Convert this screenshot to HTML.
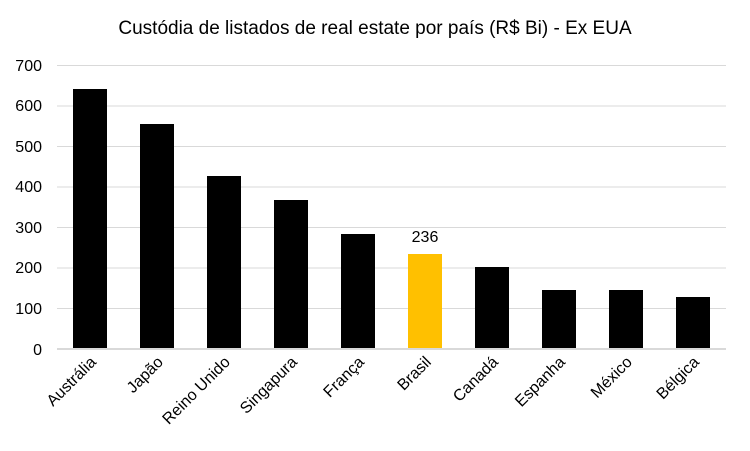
<!DOCTYPE html>
<html><head><meta charset="utf-8"><style>body{margin:0;background:#fff}svg{display:block;font-family:"Liberation Sans",Arial,sans-serif}</style></head><body>
<svg width="750" height="451" viewBox="0 0 750 451">
<rect width="750" height="451" fill="#fff"/>
<text x="375" y="34" font-size="19" text-anchor="middle" fill="#000">Custódia de listados de real estate por país (R$ Bi) - Ex EUA</text>
<g stroke="#d9d9d9" stroke-width="1">
<line x1="57" x2="726" y1="65.5" y2="65.5"/><line x1="57" x2="726" y1="106" y2="106"/><line x1="57" x2="726" y1="146.5" y2="146.5"/><line x1="57" x2="726" y1="187" y2="187"/><line x1="57" x2="726" y1="227.5" y2="227.5"/><line x1="57" x2="726" y1="268" y2="268"/><line x1="57" x2="726" y1="308.5" y2="308.5"/><line x1="57" x2="726" y1="349" y2="349" stroke-width="2"/>
</g>
<g font-size="16" text-anchor="end" fill="#000">
<text x="42" y="71">700</text><text x="42" y="111">600</text><text x="42" y="152">500</text><text x="42" y="192">400</text><text x="42" y="233">300</text><text x="42" y="273">200</text><text x="42" y="314">100</text><text x="42" y="355">0</text>
</g>
<g fill="#000">
<rect x="73" y="89" width="34" height="259"/>
<rect x="140" y="124" width="34" height="224"/>
<rect x="207" y="176" width="34" height="172"/>
<rect x="274" y="200" width="34" height="148"/>
<rect x="341" y="234" width="34" height="114"/>
<rect x="408" y="254" width="34" height="94" fill="#ffc000"/>
<rect x="475" y="267" width="34" height="81"/>
<rect x="542" y="290" width="34" height="58"/>
<rect x="609" y="290" width="34" height="58"/>
<rect x="676" y="297" width="34" height="51"/>
</g>
<text x="425" y="242" font-size="16" text-anchor="middle">236</text>
<g font-size="16" text-anchor="end" fill="#000">
<text transform="translate(97,363) rotate(-45)">Austrália</text>
<text transform="translate(164,363) rotate(-45)">Japão</text>
<text transform="translate(231,363) rotate(-45)">Reino Unido</text>
<text transform="translate(298,363) rotate(-45)">Singapura</text>
<text transform="translate(365,363) rotate(-45)">França</text>
<text transform="translate(432,363) rotate(-45)">Brasil</text>
<text transform="translate(499,363) rotate(-45)">Canadá</text>
<text transform="translate(566,363) rotate(-45)">Espanha</text>
<text transform="translate(633,363) rotate(-45)">México</text>
<text transform="translate(700,363) rotate(-45)">Bélgica</text>
</g>
</svg>
</body></html>
